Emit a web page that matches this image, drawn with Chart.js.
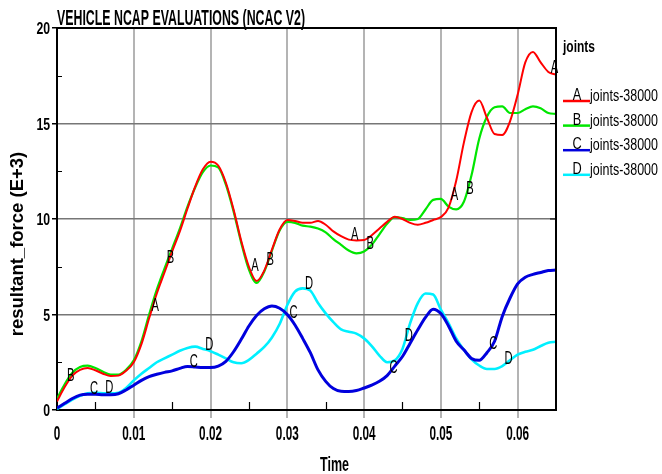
<!DOCTYPE html>
<html lang="en">
<head>
  <meta charset="UTF-8" />
  <title>VEHICLE NCAP EVALUATIONS (NCAC V2)</title>
  <script src="https://cdn.jsdelivr.net/npm/chart.js"></script>
  <style>
    html, body {
      margin: 0;
      padding: 0;
      background: #ffffff;
    }
    #wrap {
      width: 662px;
      height: 474px;
    }
  </style>
</head>
<body>
  <div id="wrap">
    <canvas id="forceChart" width="662" height="474"></canvas>
  </div>

  <script>
    // time samples (s), one every 0.001
    const times = [
      0.000, 0.001, 0.002, 0.003, 0.004, 0.005, 0.006, 0.007, 0.008, 0.009,
      0.010, 0.011, 0.012, 0.013, 0.014, 0.015, 0.016, 0.017, 0.018, 0.019,
      0.020, 0.021, 0.022, 0.023, 0.024, 0.025, 0.026, 0.027, 0.028, 0.029,
      0.030, 0.031, 0.032, 0.033, 0.034, 0.035, 0.036, 0.037, 0.038, 0.039,
      0.040, 0.041, 0.042, 0.043, 0.044, 0.045, 0.046, 0.047, 0.048, 0.049,
      0.050, 0.051, 0.052, 0.053, 0.054, 0.055, 0.056, 0.057, 0.058, 0.059,
      0.060, 0.061, 0.062, 0.063, 0.064, 0.065
    ];

    // resultant force (E+3) for each joint curve
    const forceA = [
      0.45, 1.2, 1.8, 2.1, 2.2, 2.08, 1.9, 1.78, 1.8, 2.05,
      2.5, 3.45, 4.8, 6.1, 7.2, 8.3, 9.35, 10.55, 11.7, 12.6,
      13.0, 12.8, 11.9, 10.5, 8.85, 7.5, 6.75, 7.3, 8.4, 9.45,
      9.95, 9.9, 9.8, 9.8, 9.9, 9.7, 9.35, 9.1, 8.92, 8.88,
      8.9, 9.15, 9.5, 9.85, 10.12, 10.0, 9.8, 9.7, 9.8, 9.95,
      10.1, 10.6, 12.0, 14.0, 15.6, 16.2, 15.3, 14.45, 14.4, 15.1,
      16.5, 18.2, 18.75, 18.2, 17.7, 17.55
    ];
    const forceB = [
      0.6, 1.35, 1.95, 2.25, 2.32, 2.2, 2.0, 1.85, 1.85, 2.1,
      2.6, 3.6, 5.0, 6.3, 7.4, 8.45, 9.5, 10.65, 11.65, 12.45,
      12.8, 12.7, 11.8, 10.4, 8.75, 7.35, 6.65, 7.25, 8.35, 9.4,
      9.85, 9.8, 9.65, 9.6, 9.5, 9.3, 8.95, 8.65, 8.35, 8.2,
      8.3, 8.65, 9.2, 9.75, 10.1, 10.05, 9.95, 10.0, 10.5, 11.0,
      11.05, 10.65, 10.5, 10.9, 12.3, 14.2, 15.35, 15.85, 15.9, 15.55,
      15.55, 15.75, 15.9, 15.8, 15.55, 15.5
    ];
    const forceC = [
      0.1, 0.35, 0.6, 0.78, 0.82, 0.82, 0.8, 0.8, 0.85, 1.05,
      1.3, 1.55, 1.75, 1.87, 1.97, 2.05, 2.18, 2.28, 2.25, 2.22,
      2.22, 2.3, 2.55, 3.05, 3.7, 4.4, 4.95, 5.3, 5.45, 5.33,
      5.0, 4.45, 3.75, 3.0, 2.1, 1.5, 1.12, 0.98, 0.97, 1.02,
      1.15, 1.3, 1.5, 1.8, 2.3, 2.8, 3.5, 4.2, 4.85, 5.28,
      5.05, 4.4, 3.6, 3.15, 2.7, 2.6, 3.0, 3.6, 4.9, 5.85,
      6.6, 6.95, 7.1, 7.2, 7.3, 7.33
    ];
    const forceD = [
      0.05, 0.3, 0.55, 0.75, 0.87, 0.9, 0.88, 0.87, 0.9, 1.15,
      1.55, 1.9, 2.2, 2.5, 2.7, 2.9, 3.1, 3.25, 3.32, 3.2,
      3.08, 2.9, 2.7, 2.5, 2.45, 2.62, 2.95, 3.3, 3.8, 4.5,
      5.5, 6.2, 6.37, 6.25, 5.6, 5.06, 4.6, 4.22, 4.1, 4.0,
      3.75, 3.35, 2.85, 2.5, 2.6, 3.2, 4.55, 5.6, 6.1, 6.05,
      5.25, 4.55, 3.75, 3.15, 2.65, 2.33, 2.15, 2.15, 2.3, 2.6,
      2.9, 3.05, 3.15, 3.35, 3.52, 3.57
    ];

    // where the curve letters sit (time)
    const markTimesA = [0.0123, 0.0253, 0.0383, 0.0513, 0.0643];
    const markTimesB = [0.0013, 0.0143, 0.0273, 0.0403, 0.0533];
    const markTimesC = [0.0043, 0.0173, 0.0303, 0.0433, 0.0563];
    const markTimesD = [0.0063, 0.0193, 0.0323, 0.0453, 0.0583];

    const curveLetters = ['A', 'B', 'C', 'D'];
    const curveNames = ['joints-38000', 'joints-38000', 'joints-38000', 'joints-38000'];
    const curveColors = ['#ff0000', '#00e600', '#0000dd', '#00f0ff'];

    const xTicks = [0, 0.01, 0.02, 0.03, 0.04, 0.05, 0.06];
    const xTickLabels = ['0', '0.01', '0.02', '0.03', '0.04', '0.05', '0.06'];
    const xMinor = [0.005, 0.015, 0.025, 0.035, 0.045, 0.055];
    const yTicks = [0, 5, 10, 15, 20];
    const yTickLabels = ['0', '5', '10', '15', '20'];
    const yMinor = [2.5, 7.5, 12.5, 17.5];

    const FONT = '"Liberation Sans", Arial, sans-serif';

    // condensed text: draw with a horizontal squeeze
    function squeezeText(ctx, text, x, y, font, sx, align) {
      ctx.save();
      ctx.font = font;
      ctx.textAlign = align || 'left';
      ctx.textBaseline = 'alphabetic';
      ctx.translate(x, y);
      ctx.scale(sx, 1);
      ctx.fillText(text, 0, 0);
      ctx.restore();
    }

    function fitText(ctx, text, x, y, font, width, align) {
      ctx.save();
      ctx.font = font;
      const w = ctx.measureText(text).width;
      ctx.restore();
      squeezeText(ctx, text, x, y, font, width / w, align);
    }

    const decorPlugin = {
      id: 'decor',
      afterDraw(chart) {
        const ctx = chart.ctx;
        const area = chart.chartArea;
        const xs = chart.scales.x;
        const ys = chart.scales.y;

        ctx.save();
        ctx.fillStyle = '#000';
        ctx.strokeStyle = '#000';

        // top + right frame
        ctx.lineWidth = 2;
        ctx.beginPath();
        ctx.moveTo(area.left - 1, area.top);
        ctx.lineTo(area.right, area.top);
        ctx.lineTo(area.right, area.bottom);
        ctx.stroke();

        // minor ticks, inward
        ctx.lineWidth = 1.2;
        ctx.beginPath();
        xMinor.forEach(v => {
          const px = Math.round(xs.getPixelForValue(v)) + 0.5;
          ctx.moveTo(px, area.bottom);
          ctx.lineTo(px, area.bottom - 8);
        });
        yMinor.forEach(v => {
          const py = Math.round(ys.getPixelForValue(v)) + 0.5;
          ctx.moveTo(area.left, py);
          ctx.lineTo(area.left + 5, py);
        });
        // right axis ticks
        [5, 10, 15].forEach(v => {
          const py = ys.getPixelForValue(v);
          ctx.moveTo(area.right, py);
          ctx.lineTo(area.right - 6, py);
        });
        ctx.stroke();

        // tick labels
        yTicks.forEach((v, i) => {
          squeezeText(ctx, yTickLabels[i], 50, ys.getPixelForValue(v) + 6,
            'bold 17px ' + FONT, 0.72, 'right');
        });
        xTicks.forEach((v, i) => {
          squeezeText(ctx, xTickLabels[i], xs.getPixelForValue(v), 440,
            'bold 21px ' + FONT, 0.56, 'center');
        });

        // titles
        fitText(ctx, 'VEHICLE NCAP EVALUATIONS (NCAC V2)', 57, 25, 'bold 22px ' + FONT, 248, 'left');
        fitText(ctx, 'Time', 320, 471, 'bold 20px ' + FONT, 29, 'left');

        ctx.save();
        ctx.translate(23, 244);
        ctx.rotate(-Math.PI / 2);
        ctx.font = 'bold 18.5px ' + FONT;
        ctx.textAlign = 'center';
        ctx.textBaseline = 'alphabetic';
        ctx.fillText('resultant_force (E+3)', 0, 0);
        ctx.restore();

        // legend
        fitText(ctx, 'joints', 563, 52, 'bold 17px ' + FONT, 32, 'left');
        curveLetters.forEach((letter, i) => {
          const base = 101 + i * 24.6;
          ctx.strokeStyle = curveColors[i];
          ctx.lineWidth = 2.5;
          ctx.beginPath();
          ctx.moveTo(563, base);
          ctx.lineTo(590, base);
          ctx.stroke();
          squeezeText(ctx, letter, 577, base - 1, '17px ' + FONT, 0.75, 'center');
          fitText(ctx, curveNames[i], 590, base, '17px ' + FONT, 68, 'left');
        });

        // letters on the curves
        const markSets = [markTimesA, markTimesB, markTimesC, markTimesD];
        markSets.forEach((set, di) => {
          const pts = chart.getDatasetMeta(di).data;
          set.forEach(t => {
            const px = xs.getPixelForValue(t);
            let k = 0;
            while (k < pts.length - 2 && pts[k + 1].x < px) k++;
            const a = pts[k], b = pts[k + 1];
            const f = (px - a.x) / (b.x - a.x);
            const py = a.y + (b.y - a.y) * f;
            squeezeText(ctx, curveLetters[di], px, py, '18px ' + FONT, 0.62, 'left');
          });
        });

        ctx.restore();
      }
    };

    function makeSeries(values) {
      return times.map((t, i) => ({ x: t, y: values[i] }));
    }

    const seriesValues = [forceA, forceB, forceC, forceD];
    const lineWidths = [2, 2.2, 3, 2.6];

    new Chart(document.getElementById('forceChart'), {
      type: 'line',
      data: {
        datasets: seriesValues.map((vals, i) => ({
          label: curveLetters[i] + ' ' + curveNames[i],
          data: makeSeries(vals),
          borderColor: curveColors[i],
          borderWidth: lineWidths[i],
          pointRadius: 0,
          fill: false,
          cubicInterpolationMode: 'monotone'
        }))
      },
      options: {
        responsive: false,
        animation: false,
        layout: { padding: { top: 28, right: 106, left: 0, bottom: 0 } },
        plugins: {
          legend: { display: false },
          tooltip: { enabled: false },
          title: { display: false }
        },
        scales: {
          x: {
            type: 'linear',
            min: 0,
            max: 0.065,
            afterBuildTicks: s => { s.ticks = xTicks.map(v => ({ value: v })); },
            afterFit: s => { s.height = 64; },
            ticks: { display: false },
            grid: {
              color: c => (c.tick && c.tick.value === 0) ? 'rgba(0,0,0,0)' : '#b4b4b4',
              tickColor: c => (c.tick && c.tick.value === 0) ? 'rgba(0,0,0,0)' : '#b4b4b4',
              lineWidth: 2,
              tickWidth: 2,
              tickLength: 8
            },
            border: { color: '#000', width: 2 }
          },
          y: {
            min: 0,
            max: 20,
            afterBuildTicks: s => { s.ticks = yTicks.map(v => ({ value: v })); },
            afterFit: s => { s.width = 57; },
            ticks: { display: false },
            grid: {
              color: c => (c.tick && (c.tick.value === 0 || c.tick.value === 20)) ? 'rgba(0,0,0,0)' : '#767676',
              tickColor: '#000',
              lineWidth: 1.5,
              tickWidth: 1.5,
              tickLength: 5
            },
            border: { color: '#000', width: 2 }
          }
        }
      },
      plugins: [decorPlugin]
    });
  </script>
</body>
</html>
